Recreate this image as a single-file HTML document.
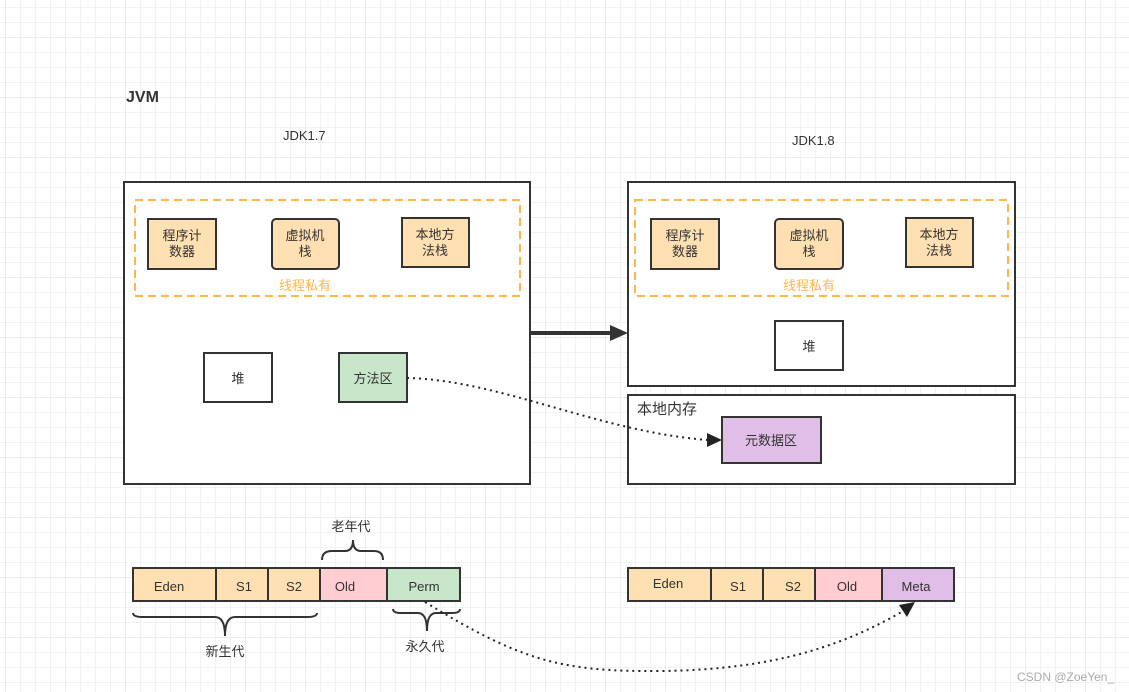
<!DOCTYPE html>
<html><head><meta charset="utf-8"><style>
html,body{margin:0;padding:0;background:#fff;}
svg{display:block;}
text{font-family:"Liberation Sans","Noto Sans CJK SC",sans-serif;fill:#333;}
</style></head><body>
<svg width="1129" height="692" viewBox="0 0 1129 692" xmlns="http://www.w3.org/2000/svg">
<defs>
<pattern id="g1" x="5" y="7" width="15" height="15" patternUnits="userSpaceOnUse">
<path d="M0 0H15M0 0V15" stroke="#e6e6e6" stroke-width="1" fill="none"/>
</pattern>
<pattern id="g2" x="5" y="37" width="60" height="60" patternUnits="userSpaceOnUse">
<path d="M0 0H60M0 0V60" stroke="#dadada" stroke-width="1" fill="none"/>
</pattern>
</defs>
<rect width="1129" height="692" fill="url(#g1)"/>
<rect width="1129" height="692" fill="url(#g2)"/>

<text x="126" y="102" font-size="16" font-weight="bold">JVM</text>
<text x="283" y="140" font-size="13">JDK1.7</text>
<text x="792" y="145" font-size="13">JDK1.8</text>

<g stroke="#333" stroke-width="2">
<rect x="124" y="182" width="406" height="302" fill="#fff"/>
<rect x="628" y="182" width="387" height="204" fill="#fff"/>
<rect x="628" y="395" width="387" height="89" fill="#fff"/>
</g>
<rect x="135" y="200" width="385" height="96" fill="none" stroke="#ffb54a" stroke-width="2" stroke-dasharray="8,5"/>
<rect x="635" y="200" width="373" height="96" fill="none" stroke="#ffb54a" stroke-width="2" stroke-dasharray="8,5"/>
<text x="305" y="290" font-size="13" text-anchor="middle" style="fill:#ffb54a">线程私有</text>
<text x="809" y="290" font-size="13" text-anchor="middle" style="fill:#ffb54a">线程私有</text>

<g stroke="#333" stroke-width="2" fill="#ffe0b2">
<rect x="148" y="219" width="68" height="50"/>
<rect x="272" y="219" width="67" height="50" rx="4"/>
<rect x="402" y="218" width="67" height="49"/>
<rect x="651" y="219" width="68" height="50"/>
<rect x="775" y="219" width="68" height="50" rx="4"/>
<rect x="906" y="218" width="67" height="49"/>
<rect x="204" y="353" width="68" height="49" fill="#fff"/>
<rect x="339" y="353" width="68" height="49" fill="#c8e6c9"/>
<rect x="775" y="321" width="68" height="49" fill="#fff"/>
<rect x="722" y="417" width="99" height="46" fill="#e1bee7"/>
</g>
<g font-size="13" text-anchor="middle">
<text x="182" y="240">程序计</text><text x="182" y="256">数器</text>
<text x="305" y="240">虚拟机</text><text x="305" y="256">栈</text>
<text x="435" y="239">本地方</text><text x="435" y="255">法栈</text>
<text x="685" y="240">程序计</text><text x="685" y="256">数器</text>
<text x="809" y="240">虚拟机</text><text x="809" y="256">栈</text>
<text x="939" y="239">本地方</text><text x="939" y="255">法栈</text>
<text x="238" y="383">堆</text>
<text x="373" y="383">方法区</text>
<text x="809" y="351">堆</text>
<text x="771" y="445">元数据区</text>
</g>
<text x="637" y="414" font-size="15">本地内存</text>

<line x1="530" y1="333" x2="612" y2="333" stroke="#333" stroke-width="4"/>
<path d="M628 333 L610 325 L610 341 Z" fill="#333"/>

<path d="M407 378 C500 380 600 432 708 440" fill="none" stroke="#222" stroke-width="2" stroke-dasharray="2,4"/>
<path d="M722 440 L707 433 L707 447 Z" fill="#222"/>

<g stroke="#333" stroke-width="2">
<rect x="133" y="568" width="83" height="33" fill="#ffe0b2"/>
<rect x="216" y="568" width="52" height="33" fill="#ffe0b2"/>
<rect x="268" y="568" width="52" height="33" fill="#ffe0b2"/>
<rect x="320" y="568" width="67" height="33" fill="#ffcdd2"/>
<rect x="387" y="568" width="73" height="33" fill="#c8e6c9"/>
<rect x="628" y="568" width="83" height="33" fill="#ffe0b2"/>
<rect x="711" y="568" width="52" height="33" fill="#ffe0b2"/>
<rect x="763" y="568" width="52" height="33" fill="#ffe0b2"/>
<rect x="815" y="568" width="67" height="33" fill="#ffcdd2"/>
<rect x="882" y="568" width="72" height="33" fill="#e1bee7"/>
</g>
<g font-size="13" text-anchor="middle">
<text x="169" y="591">Eden</text><text x="244" y="591">S1</text><text x="294" y="591">S2</text>
<text x="345" y="591">Old</text><text x="424" y="591">Perm</text>
<text x="668" y="588">Eden</text><text x="738" y="591">S1</text><text x="793" y="591">S2</text>
<text x="847" y="591">Old</text><text x="916" y="591">Meta</text>
<text x="351" y="531">老年代</text>
<text x="225" y="656">新生代</text>
<text x="425" y="651">永久代</text>
</g>
<g fill="none" stroke="#333" stroke-width="2">
<path d="M322 560 Q322 551 332 551 L345 551 Q353 551 353 540 Q353 551 361 551 L374 551 Q383 551 383 560"/>
<path d="M133 613 Q133 617 143 617 L215 617 Q225 617 225 636 Q225 617 235 617 L307 617 Q317 617 317 613"/>
<path d="M393 609 Q393 613 401 613 L418 613 Q427 613 427 631 Q427 613 436 613 L452 613 Q460 613 460 609"/>
</g>

<path d="M425 602 C520 660 560 672 660 671 C780 670 850 642 905 610" fill="none" stroke="#222" stroke-width="2" stroke-dasharray="2,4"/>
<path d="M915 602 L899 605 L907 617 Z" fill="#222"/>

<text x="1017" y="681" font-size="12" style="fill:#aaa">CSDN @ZoeYen_</text>
</svg>
</body></html>
